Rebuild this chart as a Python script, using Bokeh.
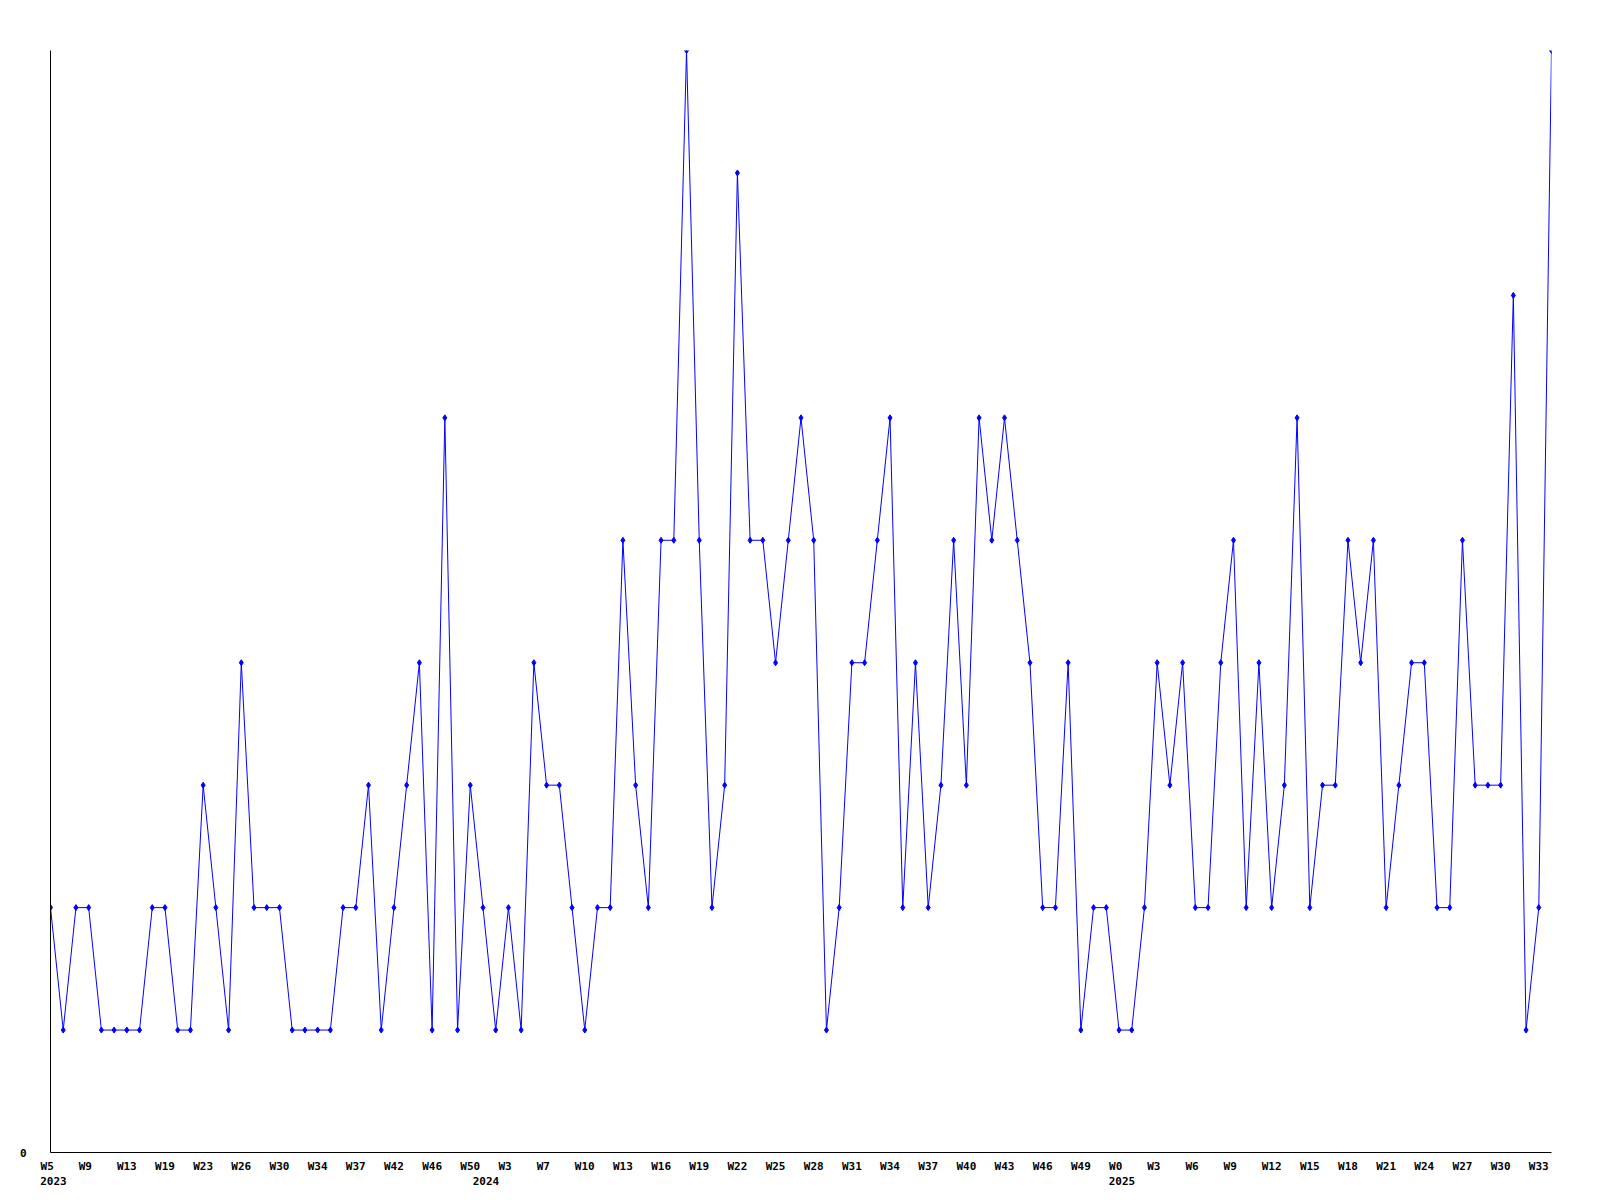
from bokeh.plotting import figure
from bokeh.models import Range1d, FixedTicker, LinearAxis
from bokeh.embed import file_html
from bokeh.resources import INLINE

# weekly counts, 2023 W5 .. 2025 W34 (weeks without data are skipped)
values = [2, 1, 2, 2, 1, 1, 1, 1, 2, 2,
          1, 1, 3, 2, 1, 4, 2, 2, 2, 1,
          1, 1, 1, 2, 2, 3, 1, 2, 3, 4,
          1, 6, 1, 3, 2, 1, 2, 1, 4, 3,
          3, 2, 1, 2, 2, 5, 3, 2, 5, 5,
          9, 5, 2, 3, 8, 5, 5, 4, 5, 6,
          5, 1, 2, 4, 4, 5, 6, 2, 4, 2,
          3, 5, 3, 6, 5, 6, 5, 4, 2, 2,
          4, 1, 2, 2, 1, 1, 2, 4, 3, 4,
          2, 2, 4, 5, 2, 4, 2, 3, 6, 2,
          3, 3, 5, 4, 5, 2, 3, 4, 4, 2,
          2, 5, 3, 3, 3, 7, 1, 2, 9]
x_index = list(range(len(values)))

week_labels = ["W5", "W9", "W13", "W19", "W23", "W26", "W30", "W34", "W37", "W42",
               "W46", "W50", "W3", "W7", "W10", "W13", "W16", "W19", "W22", "W25",
               "W28", "W31", "W34", "W37", "W40", "W43", "W46", "W49", "W0", "W3",
               "W6", "W9", "W12", "W15", "W18", "W21", "W24", "W27", "W30", "W33"]
week_label_index = list(range(0, 3 * len(week_labels), 3))

year_labels = ["2023", "2024", "2025"]
year_label_index = [0, 34, 84]

FONT = "DejaVu Sans Mono"
FRAME_W = 1501
LEFT, TOP = 50, 50
n_last = len(values) - 1
year_shift = 3 * n_last / FRAME_W  # year labels centred 3px right of their point

p = figure(width=1600, height=1200, output_backend="svg", toolbar_location=None,
           x_range=Range1d(0, n_last), y_range=Range1d(0, 9), x_axis_location=None,
           min_border_left=LEFT, min_border_right=1600 - LEFT - FRAME_W,
           min_border_top=TOP, min_border_bottom=48)
p.outline_line_color = None
p.xgrid.visible = False
p.ygrid.visible = False
p.background_fill_color = "white"
p.border_fill_color = "white"
p.extra_x_ranges = {"yr": Range1d(-year_shift, n_last - year_shift)}


def style(ax):
    ax.axis_line_color = "black"
    ax.axis_line_width = 1
    ax.major_tick_in = 0
    ax.major_tick_out = 0
    ax.minor_tick_in = 0
    ax.minor_tick_out = 0
    ax.major_label_text_font = FONT
    ax.major_label_text_font_size = "11px"
    ax.major_label_text_font_style = "bold"
    ax.major_label_text_color = "black"


style(p.yaxis[0])
p.yaxis[0].ticker = FixedTicker(ticks=[0])
p.yaxis[0].major_label_standoff = 24

# labels are laid out in 3-character cells (monospace), short ones padded
wax = LinearAxis(ticker=FixedTicker(ticks=week_label_index),
                 major_label_overrides={i: t.ljust(3, "\u00a0")
                                        for i, t in zip(week_label_index, week_labels)})
style(wax)
wax.major_label_standoff = 7
p.add_layout(wax, "below")

yax = LinearAxis(x_range_name="yr", ticker=FixedTicker(ticks=year_label_index),
                 major_label_overrides={i: t for i, t in zip(year_label_index, year_labels)})
style(yax)
yax.axis_line_color = None
yax.major_label_standoff = 1
p.add_layout(yax, "below")

p.line(x_index, values, line_color="#0000ff", line_width=1)
p.scatter(x_index, values, marker="diamond", size=6, fill_color="#0000ff", line_color="#0000ff")

open("out.html", "w").write(file_html(p, INLINE))
